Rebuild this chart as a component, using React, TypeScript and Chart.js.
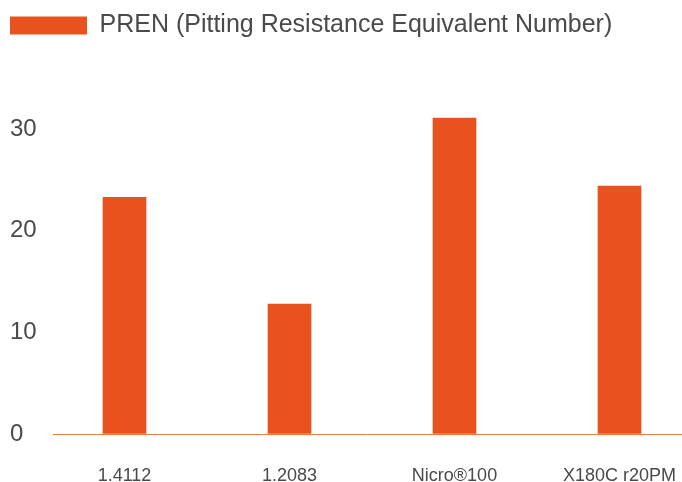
import React, { useEffect, useRef } from 'react';
import { Chart, registerables } from 'chart.js';

Chart.register(...registerables);

const categories = ['1.4112', '1.2083', 'Nicro®100', 'X180C r20PM'];
const prenValues = [23.3, 12.8, 31.1, 24.4];
const yTicks = [0, 10, 20, 30];
const seriesLabel = 'PREN (Pitting Resistance Equivalent Number)';

const TEXT = '#4a4a4a';
const BAR = '#E9521E';
const BASE = '#EE7A4B';
const FONT = "'Liberation Sans', Arial, Helvetica, sans-serif";

export default function App() {
  const ref = useRef<HTMLCanvasElement>(null);
  useEffect(() => {
    const chart = new Chart(ref.current as HTMLCanvasElement, {
      type: 'bar',
      data: {
        datasets: [
          {
            label: seriesLabel,
            data: prenValues.map((v, i) => ({ x: i, y: v })),
            backgroundColor: BAR,
            borderWidth: 0,
            barThickness: 43,
          },
        ],
      },
      options: {
        animation: false,
        responsive: true,
        maintainAspectRatio: false,
        events: [],
        layout: { autoPadding: false, padding: { left: 10, right: 0, top: 13, bottom: 0 } },
        plugins: {
          legend: {
            position: 'top',
            align: 'start',
            labels: {
              boxWidth: 77,
              boxHeight: 18,
              padding: 0,
              color: TEXT,
              font: { family: FONT, size: 25 },
            },
          },
          tooltip: { enabled: false },
        },
        scales: {
          x: {
            type: 'linear',
            offset: false,
            min: -0.4333,
            max: 3.3788,
            afterBuildTicks: (axis: any) => {
              axis.ticks = categories.map((_, i) => ({ value: i }));
            },
            afterFit: (axis: any) => {
              axis.height = 48;
            },
            grid: {
              display: true,
              drawOnChartArea: false,
              drawTicks: true,
              tickLength: 31,
              color: 'rgba(0,0,0,0)',
            },
            border: { display: false },
            ticks: {
              callback: (v: any) => categories[v as number] ?? '',
              color: TEXT,
              font: { family: FONT, size: 18 },
              padding: 0,
              maxRotation: 0,
              autoSkip: false,
            },
          },
          y: {
            min: 0,
            max: 38.0,
            afterBuildTicks: (axis: any) => {
              axis.ticks = yTicks.map((v) => ({ value: v }));
            },
            afterFit: (axis: any) => {
              axis.width = 43;
            },
            grid: {
              drawTicks: false,
              color: (ctx: any) => (ctx.tick && ctx.tick.value === 0 ? BASE : 'rgba(0,0,0,0)'),
              lineWidth: 1,
            },
            border: { display: false },
            ticks: {
              crossAlign: 'far',
              padding: 0,
              color: TEXT,
              font: { family: FONT, size: 24 },
            },
          },
        },
      } as any,
    });
    return () => chart.destroy();
  }, []);

  return (
    <div style={{ position: 'absolute', left: 0, top: 0, width: 682, height: 482, background: '#fff' }}>
      <canvas ref={ref} />
    </div>
  );
}
